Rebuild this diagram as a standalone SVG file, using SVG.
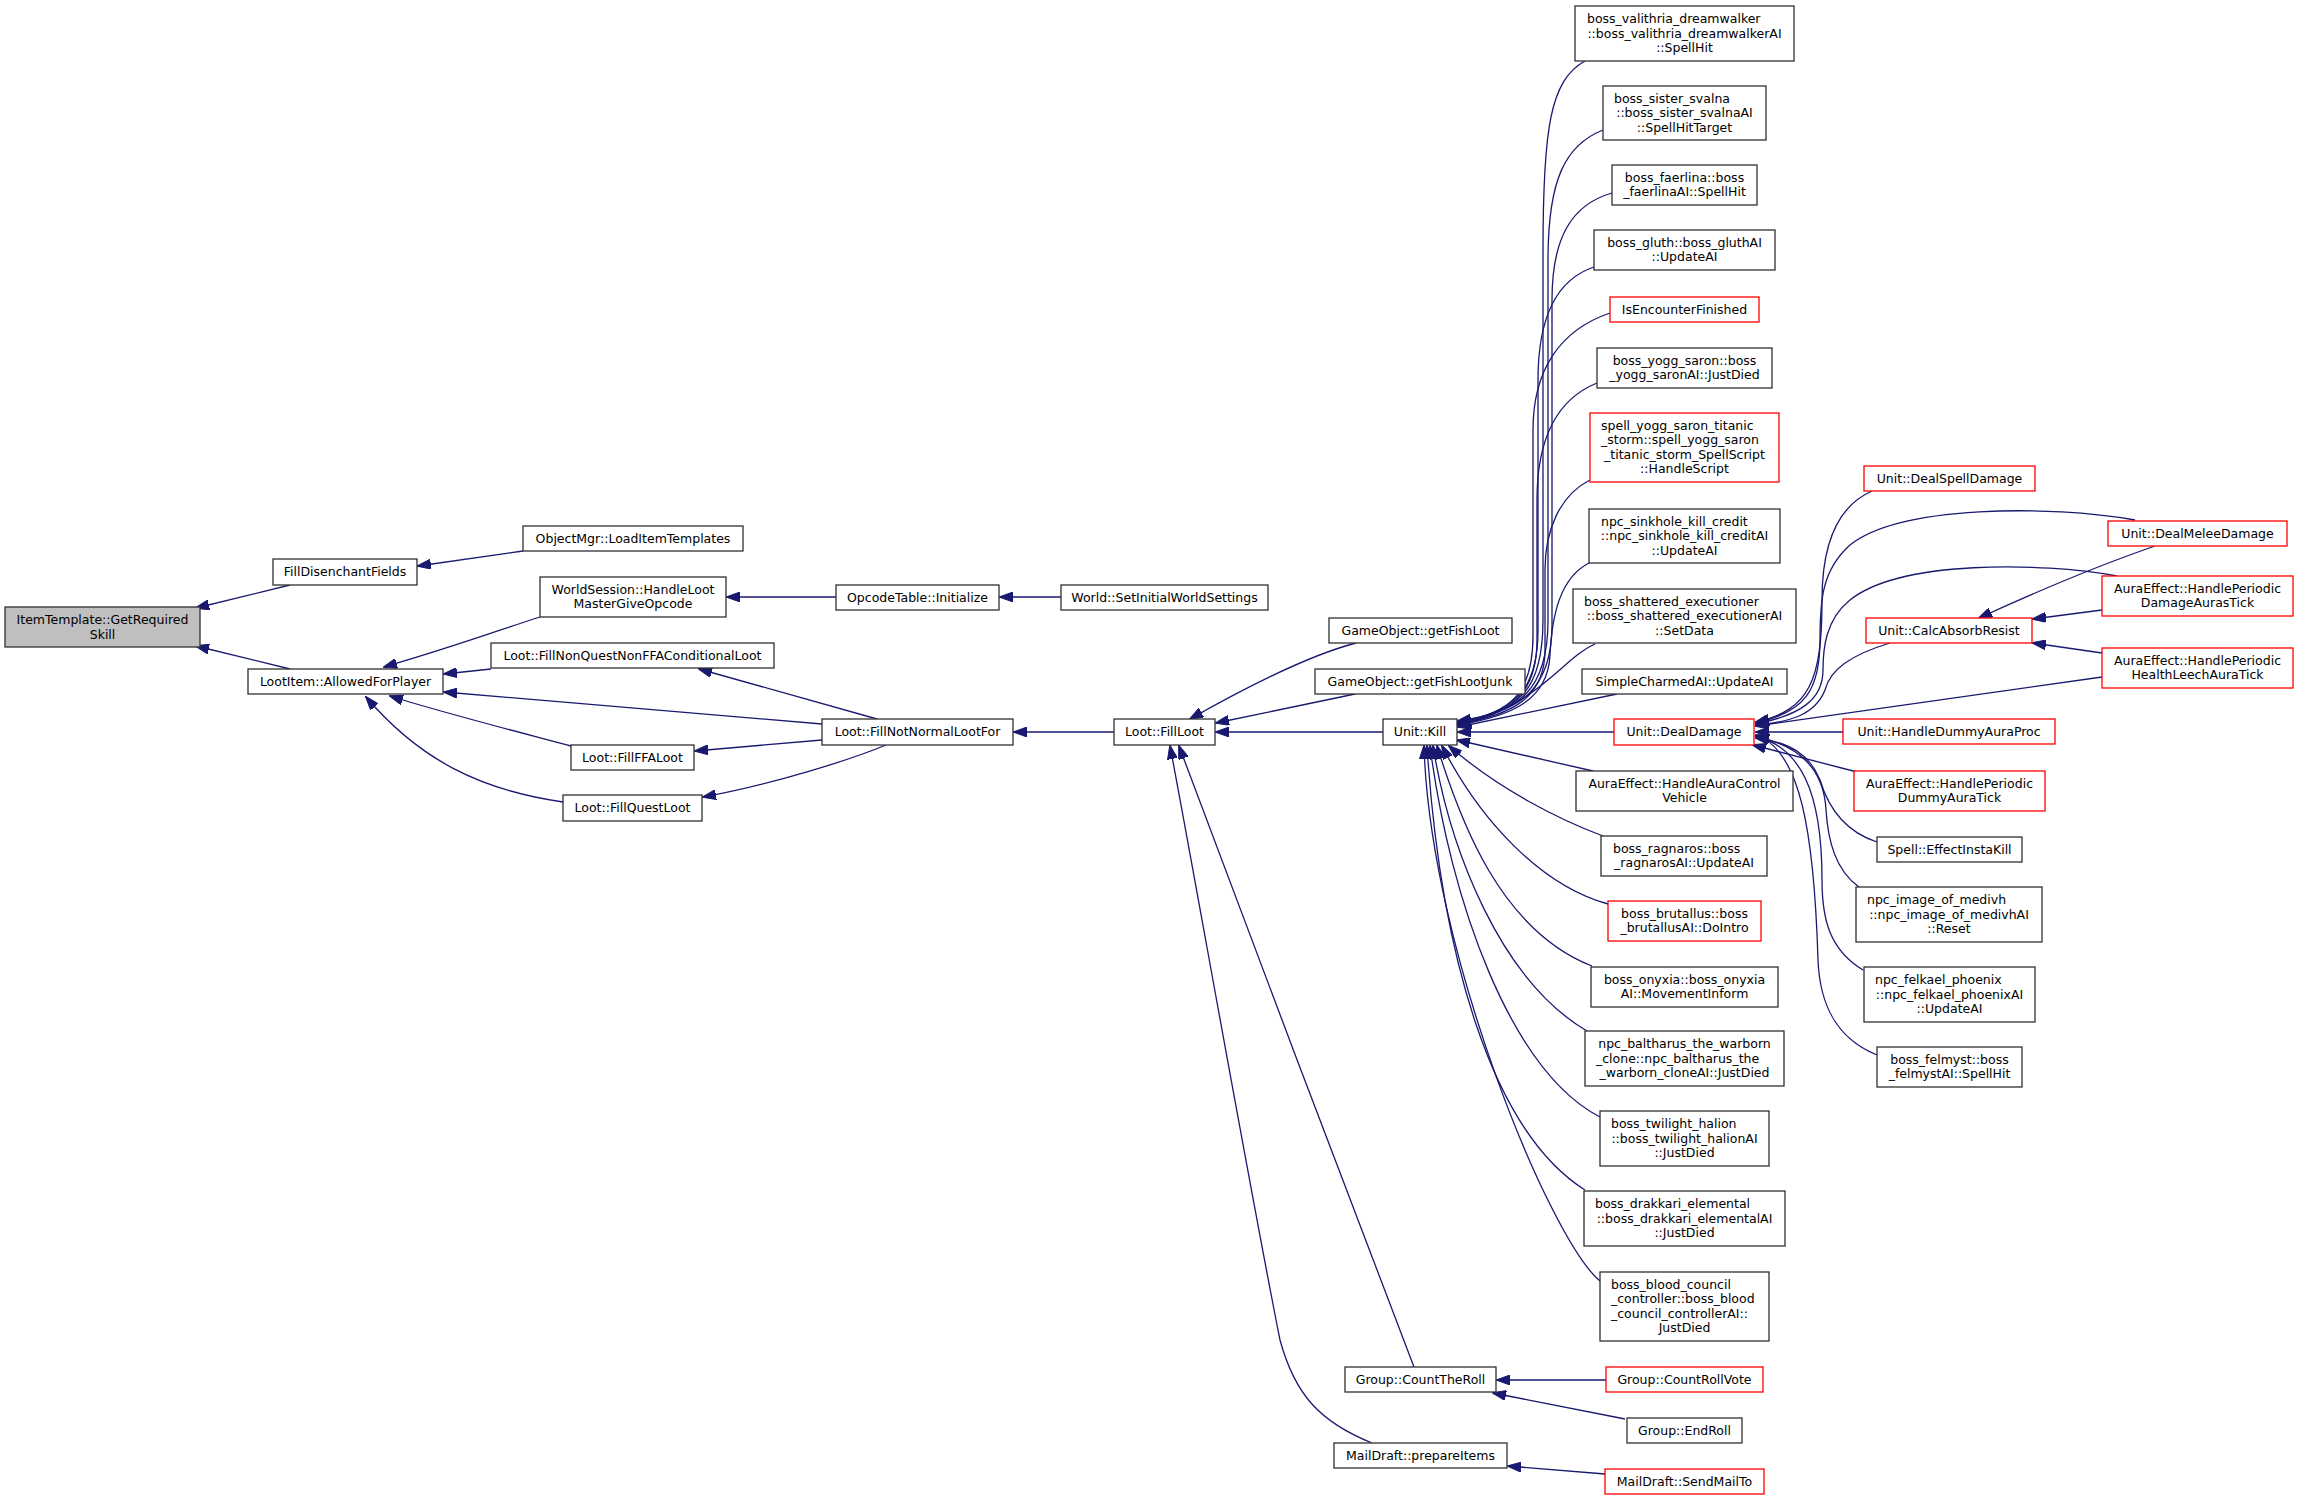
<svg xmlns="http://www.w3.org/2000/svg" width="2299" height="1500" viewBox="0 0 2299 1500">
<defs>
<marker id="ah" viewBox="0 0 14 10" refX="13" refY="5" markerWidth="14" markerHeight="10" markerUnits="userSpaceOnUse" orient="auto">
<path d="M0,0 L14,5 L0,10 z" fill="#191970" stroke="#191970" stroke-width="1"/>
</marker>
</defs>
<style>
.node rect{fill:#fff;stroke:#303030;stroke-width:1.3}
.node.red rect{stroke:#ff0000}
.node.root rect{fill:#bfbfbf}
.node text{font-family:"DejaVu Sans",sans-serif;font-size:12.5px;fill:#000;text-anchor:middle}
.node text.l{text-anchor:start}
#edges path{fill:none;stroke:#191970;stroke-width:1.3;marker-end:url(#ah)}
</style>
<rect width="2299" height="1500" fill="#fff"/>
<g id="edges">
<path d="M290,585 L196,608"/>
<path d="M290,669 L196,646"/>
<path d="M523,551 L418,566"/>
<path d="M540,617 C505,628 460,645 384,667"/>
<path d="M491,669 L444,674"/>
<path d="M822,724 L444,692"/>
<path d="M571,746 C530,735 440,712 390,696"/>
<path d="M563,802 C480,790 420,760 366,697"/>
<path d="M836,597 L727,597"/>
<path d="M1061,597 L1000,597"/>
<path d="M877,719 L699,669"/>
<path d="M822,740 L695,751"/>
<path d="M886,745 C850,760 770,785 703,797"/>
<path d="M1114,732 L1014,732"/>
<path d="M1356,643 C1310,655 1250,685 1190,719"/>
<path d="M1355,694 L1216,723"/>
<path d="M1383,732 L1216,732"/>
<path d="M1414,1367 C1395,1320 1195,790 1179,746"/>
<path d="M1372,1443 C1320,1422 1295,1395 1280,1340 C1250,1190 1190,850 1170,746"/>
<path d="M1585,61 C1550,80 1543,130 1543,250 L1543,620 C1543,690 1520,712 1458,721"/>
<path d="M1603,130 C1565,145 1548,180 1548,260 L1548,620 C1548,690 1520,712 1458,722"/>
<path d="M1612,193 C1570,205 1552,240 1552,300 L1552,625 C1552,690 1520,712 1458,722"/>
<path d="M1594,267 C1555,280 1538,320 1538,380 L1538,630 C1538,690 1515,712 1458,723"/>
<path d="M1610,313 C1560,330 1533,370 1533,430 L1533,635 C1533,695 1510,713 1458,723"/>
<path d="M1597,383 C1555,400 1537,440 1537,500 L1537,640 C1537,695 1510,714 1458,724"/>
<path d="M1590,480 C1560,495 1545,530 1545,570 L1545,650 C1545,698 1512,715 1458,724"/>
<path d="M1589,563 C1560,578 1552,615 1550,655 C1548,700 1512,716 1458,725"/>
<path d="M1595,644 C1560,660 1540,705 1458,726"/>
<path d="M1617,694 L1458,727"/>
<path d="M1614,732 L1458,732"/>
<path d="M1593,771 L1457,740"/>
<path d="M1603,836 C1560,820 1500,790 1449,746"/>
<path d="M1608,904 C1540,885 1480,820 1442,746"/>
<path d="M1592,966 C1500,930 1460,820 1437,746"/>
<path d="M1587,1031 C1500,980 1450,850 1433,746"/>
<path d="M1600,1117 C1510,1070 1450,900 1430,746"/>
<path d="M1585,1190 C1490,1130 1440,950 1427,746"/>
<path d="M1600,1281 C1550,1240 1430,950 1424,746"/>
<path d="M1872,491 C1840,505 1822,540 1822,600 C1822,680 1810,710 1756,722"/>
<path d="M2135,520 C2050,505 1900,505 1850,545 C1822,570 1820,600 1820,640 C1820,690 1805,712 1756,723"/>
<path d="M2117,576 C2040,562 1900,560 1850,600 C1825,620 1823,650 1823,670 C1823,700 1800,715 1756,724"/>
<path d="M1890,643 C1850,655 1830,670 1825,690 C1815,715 1790,722 1756,725"/>
<path d="M2102,677 L1756,726"/>
<path d="M1843,732 L1756,732"/>
<path d="M1857,772 L1753,745"/>
<path d="M1877,842 C1840,830 1826,800 1820,780 C1810,755 1790,742 1756,738"/>
<path d="M1859,887 C1835,870 1828,840 1826,810 C1824,770 1800,745 1756,737"/>
<path d="M1863,970 C1830,950 1822,920 1822,880 C1822,790 1800,748 1756,736"/>
<path d="M1877,1055 C1840,1040 1820,1010 1818,960 C1814,830 1800,750 1756,735"/>
<path d="M2155,546 C2100,565 2040,590 1979,618"/>
<path d="M2102,610 L2033,619"/>
<path d="M2102,653 L2033,643"/>
<path d="M1606,1380 L1497,1380"/>
<path d="M1625,1419 L1493,1393"/>
<path d="M1605,1474 L1508,1466"/>
</g>
<g id="n_item" class="node root"><rect x="5" y="607" width="195" height="40"/><text x="102.5" y="624">ItemTemplate::GetRequired</text><text x="102.5" y="638.5">Skill</text></g>
<g id="n_filldis" class="node"><rect x="273" y="559" width="144" height="26"/><text x="345" y="576">FillDisenchantFields</text></g>
<g id="n_objmgr" class="node"><rect x="523" y="526" width="220" height="25"/><text x="633" y="542.5">ObjectMgr::LoadItemTemplates</text></g>
<g id="n_lootitem" class="node"><rect x="248" y="669" width="195" height="25"/><text x="345.5" y="685.5">LootItem::AllowedForPlayer</text></g>
<g id="n_worldsess" class="node"><rect x="540" y="577" width="186" height="40"/><text x="633" y="593.75">WorldSession::HandleLoot</text><text x="633" y="608.25">MasterGiveOpcode</text></g>
<g id="n_nonquest" class="node"><rect x="491" y="643" width="283" height="25"/><text x="632.5" y="659.5">Loot::FillNonQuestNonFFAConditionalLoot</text></g>
<g id="n_ffa" class="node"><rect x="571" y="745" width="123" height="25"/><text x="632.5" y="761.5">Loot::FillFFALoot</text></g>
<g id="n_quest" class="node"><rect x="563" y="795" width="139" height="26"/><text x="632.5" y="812">Loot::FillQuestLoot</text></g>
<g id="n_opcode" class="node"><rect x="836" y="585" width="163" height="25"/><text x="917.5" y="601.5">OpcodeTable::Initialize</text></g>
<g id="n_world" class="node"><rect x="1061" y="585" width="207" height="25"/><text x="1164.5" y="601.5">World::SetInitialWorldSettings</text></g>
<g id="n_notnormal" class="node"><rect x="822" y="719" width="191" height="26"/><text x="917.5" y="736">Loot::FillNotNormalLootFor</text></g>
<g id="n_fillloot" class="node"><rect x="1114" y="719" width="101" height="26"/><text x="1164.5" y="736">Loot::FillLoot</text></g>
<g id="n_fish" class="node"><rect x="1329" y="618" width="183" height="25"/><text x="1420.5" y="634.5">GameObject::getFishLoot</text></g>
<g id="n_fishjunk" class="node"><rect x="1315" y="669" width="210" height="25"/><text x="1420" y="685.5">GameObject::getFishLootJunk</text></g>
<g id="n_kill" class="node"><rect x="1383" y="719" width="74" height="26"/><text x="1420" y="736">Unit::Kill</text></g>
<g id="n_countroll" class="node"><rect x="1345" y="1367" width="151" height="25"/><text x="1420.5" y="1383.5">Group::CountTheRoll</text></g>
<g id="n_prepare" class="node"><rect x="1334" y="1443" width="173" height="25"/><text x="1420.5" y="1459.5">MailDraft::prepareItems</text></g>
<g id="n_valithria" class="node"><rect x="1575" y="6" width="219" height="55"/><text class="l" x="1587" y="23">boss_valithria_dreamwalker</text><text x="1684.5" y="37.5">::boss_valithria_dreamwalkerAI</text><text x="1684.5" y="52">::SpellHit</text></g>
<g id="n_svalna" class="node"><rect x="1603" y="86" width="163" height="54"/><text class="l" x="1614" y="102.5">boss_sister_svalna</text><text x="1684.5" y="117">::boss_sister_svalnaAI</text><text x="1684.5" y="131.5">::SpellHitTarget</text></g>
<g id="n_faerlina" class="node"><rect x="1612" y="165" width="145" height="40"/><text x="1684.5" y="181.75">boss_faerlina::boss</text><text x="1684.5" y="196.25">_faerlinaAI::SpellHit</text></g>
<g id="n_gluth" class="node"><rect x="1594" y="230" width="181" height="40"/><text x="1684.5" y="246.75">boss_gluth::boss_gluthAI</text><text x="1684.5" y="261.25">::UpdateAI</text></g>
<g id="n_isenc" class="node red"><rect x="1610" y="297" width="149" height="25"/><text x="1684.5" y="313.5">IsEncounterFinished</text></g>
<g id="n_yogg" class="node"><rect x="1597" y="348" width="175" height="40"/><text x="1684.5" y="364.75">boss_yogg_saron::boss</text><text x="1684.5" y="379.25">_yogg_saronAI::JustDied</text></g>
<g id="n_spellyogg" class="node red"><rect x="1590" y="413" width="189" height="69"/><text class="l" x="1601" y="429.75">spell_yogg_saron_titanic</text><text class="l" x="1601" y="444.25">_storm::spell_yogg_saron</text><text x="1684.5" y="458.75">_titanic_storm_SpellScript</text><text x="1684.5" y="473.25">::HandleScript</text></g>
<g id="n_sinkhole" class="node"><rect x="1589" y="509" width="191" height="54"/><text class="l" x="1601" y="525.5">npc_sinkhole_kill_credit</text><text x="1684.5" y="540">::npc_sinkhole_kill_creditAI</text><text x="1684.5" y="554.5">::UpdateAI</text></g>
<g id="n_shattered" class="node"><rect x="1573" y="589" width="223" height="54"/><text class="l" x="1584" y="605.5">boss_shattered_executioner</text><text x="1684.5" y="620">::boss_shattered_executionerAI</text><text x="1684.5" y="634.5">::SetData</text></g>
<g id="n_simplecharmed" class="node"><rect x="1582" y="669" width="205" height="25"/><text x="1684.5" y="685.5">SimpleCharmedAI::UpdateAI</text></g>
<g id="n_dealdamage" class="node red"><rect x="1614" y="719" width="140" height="26"/><text x="1684" y="736">Unit::DealDamage</text></g>
<g id="n_auracontrol" class="node"><rect x="1576" y="771" width="217" height="40"/><text x="1684.5" y="787.75">AuraEffect::HandleAuraControl</text><text x="1684.5" y="802.25">Vehicle</text></g>
<g id="n_ragnaros" class="node"><rect x="1601" y="836" width="166" height="40"/><text class="l" x="1613" y="852.75">boss_ragnaros::boss</text><text x="1684" y="867.25">_ragnarosAI::UpdateAI</text></g>
<g id="n_brutallus" class="node red"><rect x="1608" y="901" width="153" height="40"/><text x="1684.5" y="917.75">boss_brutallus::boss</text><text x="1684.5" y="932.25">_brutallusAI::DoIntro</text></g>
<g id="n_onyxia" class="node"><rect x="1591" y="967" width="187" height="40"/><text x="1684.5" y="983.75">boss_onyxia::boss_onyxia</text><text x="1684.5" y="998.25">AI::MovementInform</text></g>
<g id="n_baltharus" class="node"><rect x="1585" y="1031" width="199" height="55"/><text x="1684.5" y="1048">npc_baltharus_the_warborn</text><text class="l" x="1596" y="1062.5">_clone::npc_baltharus_the</text><text x="1684.5" y="1077">_warborn_cloneAI::JustDied</text></g>
<g id="n_halion" class="node"><rect x="1600" y="1111" width="169" height="55"/><text class="l" x="1611" y="1128">boss_twilight_halion</text><text x="1684.5" y="1142.5">::boss_twilight_halionAI</text><text x="1684.5" y="1157">::JustDied</text></g>
<g id="n_drakkari" class="node"><rect x="1584" y="1191" width="201" height="55"/><text class="l" x="1595" y="1208">boss_drakkari_elemental</text><text x="1684.5" y="1222.5">::boss_drakkari_elementalAI</text><text x="1684.5" y="1237">::JustDied</text></g>
<g id="n_blood" class="node"><rect x="1600" y="1272" width="169" height="69"/><text class="l" x="1611" y="1288.75">boss_blood_council</text><text class="l" x="1611" y="1303.25">_controller::boss_blood</text><text class="l" x="1611" y="1317.75">_council_controllerAI::</text><text x="1684.5" y="1332.25">JustDied</text></g>
<g id="n_countrollvote" class="node red"><rect x="1606" y="1367" width="157" height="25"/><text x="1684.5" y="1383.5">Group::CountRollVote</text></g>
<g id="n_endroll" class="node"><rect x="1627" y="1418" width="115" height="25"/><text x="1684.5" y="1434.5">Group::EndRoll</text></g>
<g id="n_sendmail" class="node red"><rect x="1605" y="1469" width="159" height="25"/><text x="1684.5" y="1485.5">MailDraft::SendMailTo</text></g>
<g id="n_dealspell" class="node red"><rect x="1864" y="466" width="171" height="25"/><text x="1949.5" y="482.5">Unit::DealSpellDamage</text></g>
<g id="n_calcabsorb" class="node red"><rect x="1866" y="618" width="166" height="25"/><text x="1949" y="634.5">Unit::CalcAbsorbResist</text></g>
<g id="n_dummyproc" class="node red"><rect x="1843" y="719" width="212" height="25"/><text x="1949" y="735.5">Unit::HandleDummyAuraProc</text></g>
<g id="n_dummytick" class="node red"><rect x="1854" y="771" width="191" height="40"/><text x="1949.5" y="787.75">AuraEffect::HandlePeriodic</text><text x="1949.5" y="802.25">DummyAuraTick</text></g>
<g id="n_instakill" class="node"><rect x="1877" y="837" width="145" height="25"/><text x="1949.5" y="853.5">Spell::EffectInstaKill</text></g>
<g id="n_medivh" class="node"><rect x="1856" y="887" width="186" height="55"/><text class="l" x="1867" y="904">npc_image_of_medivh</text><text x="1949" y="918.5">::npc_image_of_medivhAI</text><text x="1949" y="933">::Reset</text></g>
<g id="n_felkael" class="node"><rect x="1864" y="967" width="171" height="55"/><text class="l" x="1875" y="984">npc_felkael_phoenix</text><text x="1949.5" y="998.5">::npc_felkael_phoenixAI</text><text x="1949.5" y="1013">::UpdateAI</text></g>
<g id="n_felmyst" class="node"><rect x="1877" y="1047" width="145" height="40"/><text x="1949.5" y="1063.75">boss_felmyst::boss</text><text x="1949.5" y="1078.25">_felmystAI::SpellHit</text></g>
<g id="n_dealmelee" class="node red"><rect x="2108" y="521" width="179" height="25"/><text x="2197.5" y="537.5">Unit::DealMeleeDamage</text></g>
<g id="n_damageticks" class="node red"><rect x="2102" y="576" width="191" height="40"/><text x="2197.5" y="592.75">AuraEffect::HandlePeriodic</text><text x="2197.5" y="607.25">DamageAurasTick</text></g>
<g id="n_healthleech" class="node red"><rect x="2102" y="648" width="191" height="40"/><text x="2197.5" y="664.75">AuraEffect::HandlePeriodic</text><text x="2197.5" y="679.25">HealthLeechAuraTick</text></g>
</svg>
